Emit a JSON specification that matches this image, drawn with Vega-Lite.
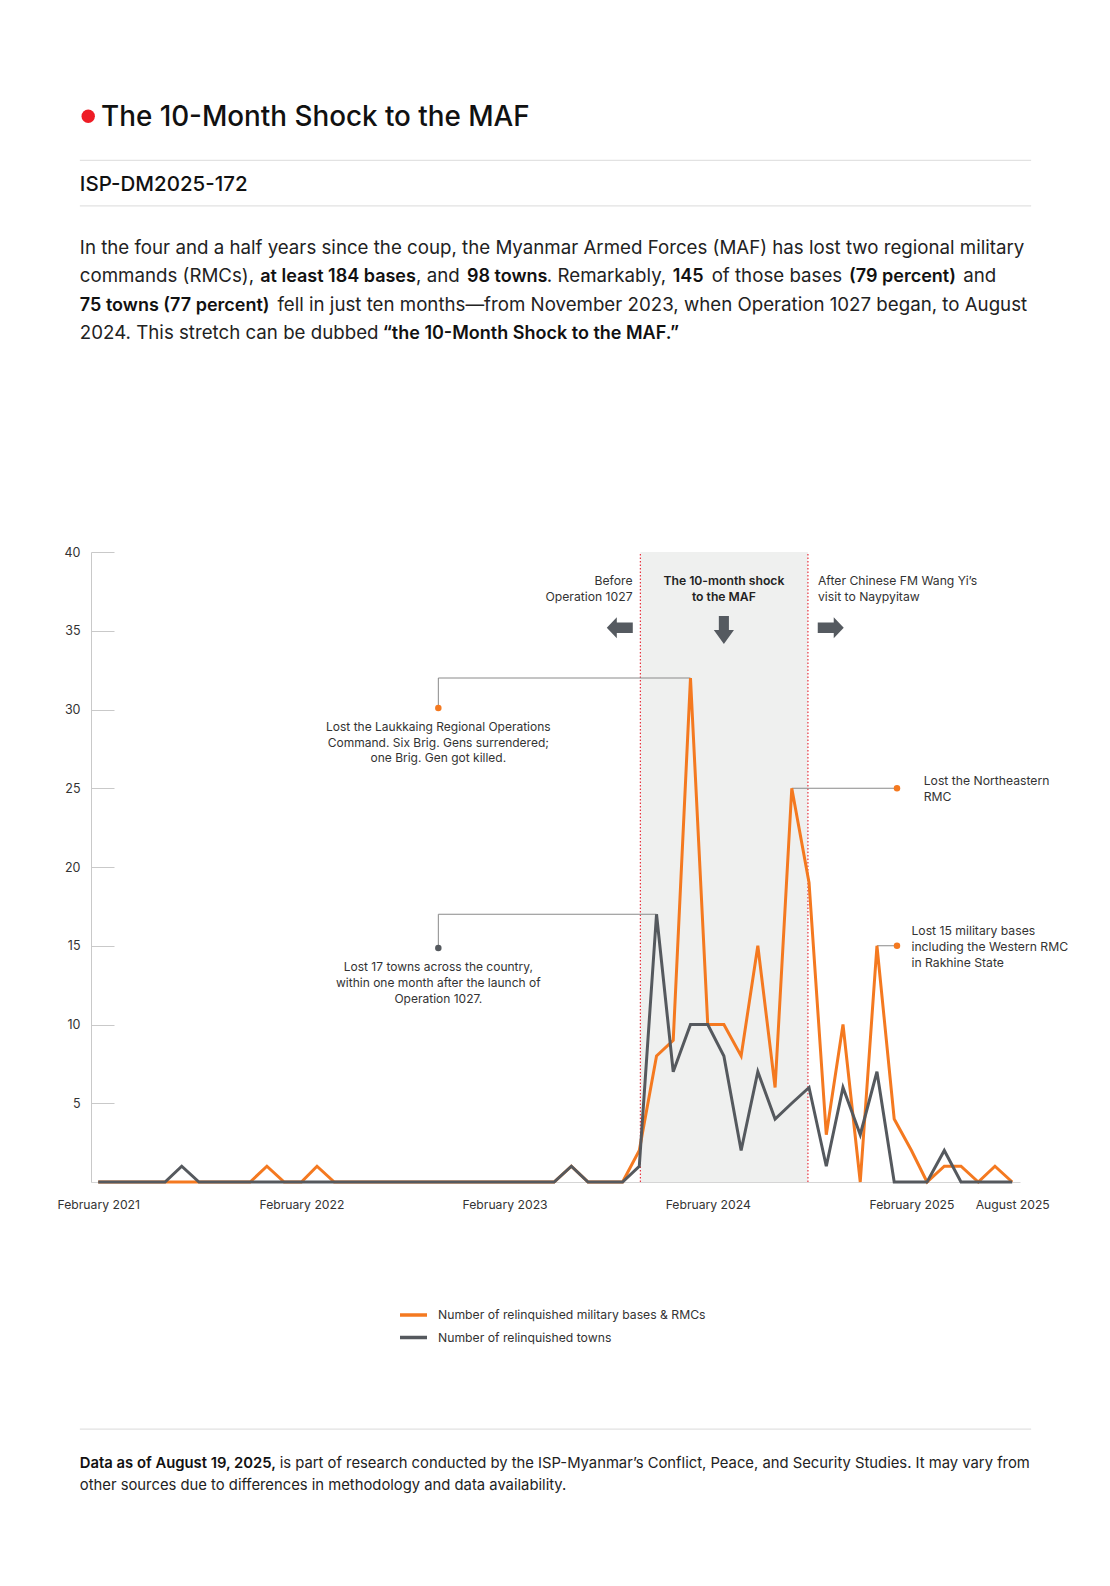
{
  "$schema": "https://vega.github.io/schema/vega-lite/v6.json",
  "width": 929,
  "height": 630,
  "autosize": {"type": "none"},
  "padding": {"left": 91, "top": 552, "right": 90, "bottom": 404},
  "background": "white",
  "config": {"view": {"stroke": null}, "font": "Inter", "text": {"font": "Inter"}},
  "datasets": {
    "m": [
      {"month": "2021/02/01", "bases": 0, "towns": 0},
      {"month": "2021/03/01", "bases": 0, "towns": 0},
      {"month": "2021/04/01", "bases": 0, "towns": 0},
      {"month": "2021/05/01", "bases": 0, "towns": 0},
      {"month": "2021/06/01", "bases": 0, "towns": 0},
      {"month": "2021/07/01", "bases": 0, "towns": 1},
      {"month": "2021/08/01", "bases": 0, "towns": 0},
      {"month": "2021/09/01", "bases": 0, "towns": 0},
      {"month": "2021/10/01", "bases": 0, "towns": 0},
      {"month": "2021/11/01", "bases": 0, "towns": 0},
      {"month": "2021/12/01", "bases": 1, "towns": 0},
      {"month": "2022/01/01", "bases": 0, "towns": 0},
      {"month": "2022/02/01", "bases": 0, "towns": 0},
      {"month": "2022/03/01", "bases": 1, "towns": 0},
      {"month": "2022/04/01", "bases": 0, "towns": 0},
      {"month": "2022/05/01", "bases": 0, "towns": 0},
      {"month": "2022/06/01", "bases": 0, "towns": 0},
      {"month": "2022/07/01", "bases": 0, "towns": 0},
      {"month": "2022/08/01", "bases": 0, "towns": 0},
      {"month": "2022/09/01", "bases": 0, "towns": 0},
      {"month": "2022/10/01", "bases": 0, "towns": 0},
      {"month": "2022/11/01", "bases": 0, "towns": 0},
      {"month": "2022/12/01", "bases": 0, "towns": 0},
      {"month": "2023/01/01", "bases": 0, "towns": 0},
      {"month": "2023/02/01", "bases": 0, "towns": 0},
      {"month": "2023/03/01", "bases": 0, "towns": 0},
      {"month": "2023/04/01", "bases": 0, "towns": 0},
      {"month": "2023/05/01", "bases": 0, "towns": 0},
      {"month": "2023/06/01", "bases": 1, "towns": 1},
      {"month": "2023/07/01", "bases": 0, "towns": 0},
      {"month": "2023/08/01", "bases": 0, "towns": 0},
      {"month": "2023/09/01", "bases": 0, "towns": 0},
      {"month": "2023/10/01", "bases": 2, "towns": 1},
      {"month": "2023/11/01", "bases": 8, "towns": 17},
      {"month": "2023/12/01", "bases": 9, "towns": 7},
      {"month": "2024/01/01", "bases": 32, "towns": 10},
      {"month": "2024/02/01", "bases": 10, "towns": 10},
      {"month": "2024/03/01", "bases": 10, "towns": 8},
      {"month": "2024/04/01", "bases": 8, "towns": 2},
      {"month": "2024/05/01", "bases": 15, "towns": 7},
      {"month": "2024/06/01", "bases": 6, "towns": 4},
      {"month": "2024/07/01", "bases": 25, "towns": 5},
      {"month": "2024/08/01", "bases": 19, "towns": 6},
      {"month": "2024/09/01", "bases": 3, "towns": 1},
      {"month": "2024/10/01", "bases": 10, "towns": 6},
      {"month": "2024/11/01", "bases": 0, "towns": 3},
      {"month": "2024/12/01", "bases": 15, "towns": 7},
      {"month": "2025/01/01", "bases": 4, "towns": 0},
      {"month": "2025/02/01", "bases": 2, "towns": 0},
      {"month": "2025/03/01", "bases": 0, "towns": 0},
      {"month": "2025/04/01", "bases": 1, "towns": 2},
      {"month": "2025/05/01", "bases": 1, "towns": 0},
      {"month": "2025/06/01", "bases": 0, "towns": 0},
      {"month": "2025/07/01", "bases": 1, "towns": 0},
      {"month": "2025/08/01", "bases": 0, "towns": 0}
    ]
  },
  "layer": [
    {
      "data": {"values": [{}]},
      "mark": {"type": "rect", "color": "#eff0ef"},
      "encoding": {
        "x": {"datum": {"year": 2023, "month": 10, "date": 3}, "type": "temporal"},
        "x2": {"datum": {"year": 2024, "month": 7, "date": 30}},
        "y": {"datum": 0, "type": "quantitative"},
        "y2": {"datum": 40}
      }
    },
    {
      "data": {"values": [{}]},
      "mark": {"type": "rule", "color": "#e8333f", "strokeDash": [1.5, 2], "strokeWidth": 1.2},
      "encoding": {
        "x": {"datum": {"year": 2023, "month": 10, "date": 3}, "type": "temporal"},
        "y": {"datum": 0, "type": "quantitative"},
        "y2": {"datum": 40}
      }
    },
    {
      "data": {"values": [{}]},
      "mark": {"type": "rule", "color": "#e8333f", "strokeDash": [1.5, 2], "strokeWidth": 1.2},
      "encoding": {
        "x": {"datum": {"year": 2024, "month": 7, "date": 30}, "type": "temporal"},
        "y": {"datum": 0, "type": "quantitative"},
        "y2": {"datum": 40}
      }
    },
    {
      "data": {"values": [{}]},
      "mark": {"type": "rule", "color": "#8a8a8a", "strokeWidth": 1},
      "encoding": {
        "x": {"datum": {"year": 2022, "month": 10, "date": 5}, "type": "temporal"},
        "x2": {"datum": {"year": 2024, "month": 1, "date": 1}},
        "y": {"datum": 32, "type": "quantitative"}
      }
    },
    {
      "data": {"values": [{}]},
      "mark": {"type": "rule", "color": "#8a8a8a", "strokeWidth": 1},
      "encoding": {
        "x": {"datum": {"year": 2022, "month": 10, "date": 5}, "type": "temporal"},
        "y": {"datum": 32, "type": "quantitative"},
        "y2": {"datum": 30.1}
      }
    },
    {
      "data": {"values": [{}]},
      "mark": {"type": "rule", "color": "#8a8a8a", "strokeWidth": 1},
      "encoding": {
        "x": {"datum": {"year": 2022, "month": 10, "date": 5}, "type": "temporal"},
        "x2": {"datum": {"year": 2023, "month": 11, "date": 1}},
        "y": {"datum": 17, "type": "quantitative"}
      }
    },
    {
      "data": {"values": [{}]},
      "mark": {"type": "rule", "color": "#8a8a8a", "strokeWidth": 1},
      "encoding": {
        "x": {"datum": {"year": 2022, "month": 10, "date": 5}, "type": "temporal"},
        "y": {"datum": 17, "type": "quantitative"},
        "y2": {"datum": 14.86}
      }
    },
    {
      "data": {"values": [{}]},
      "mark": {"type": "rule", "color": "#8a8a8a", "strokeWidth": 1},
      "encoding": {
        "x": {"datum": {"year": 2024, "month": 7, "date": 1}, "type": "temporal"},
        "x2": {"datum": {"year": 2025, "month": 1, "date": 6}},
        "y": {"datum": 25, "type": "quantitative"}
      }
    },
    {
      "data": {"values": [{}]},
      "mark": {"type": "rule", "color": "#8a8a8a", "strokeWidth": 1},
      "encoding": {
        "x": {"datum": {"year": 2024, "month": 12, "date": 1}, "type": "temporal"},
        "x2": {"datum": {"year": 2025, "month": 1, "date": 6}},
        "y": {"datum": 15, "type": "quantitative"}
      }
    },
    {
      "data": {"name": "m"},
      "transform": [{"fold": ["bases", "towns"], "as": ["series", "value"]}],
      "mark": {"type": "line", "strokeWidth": 3, "strokeJoin": "miter", "strokeMiterLimit": 4},
      "encoding": {
        "x": {
          "field": "month",
          "type": "temporal",
          "scale": {"domain": [{"year": 2021, "month": 1, "date": 19}, {"year": 2025, "month": 8, "date": 15}], "nice": false},
          "axis": {
            "title": null,
            "values": [
              {"year": 2021, "month": 2, "date": 1},
              {"year": 2022, "month": 2, "date": 1},
              {"year": 2023, "month": 2, "date": 1},
              {"year": 2024, "month": 2, "date": 1},
              {"year": 2025, "month": 2, "date": 1},
              {"year": 2025, "month": 8, "date": 1}
            ],
            "format": "%B %Y",
            "ticks": false,
            "grid": false,
            "domainColor": "#d5d5d5",
            "labelPadding": 16,
            "labelFontSize": 12.2,
            "labelFont": "Inter",
            "labelColor": "#333333",
            "labelFlush": false,
            "labelOverlap": false
          }
        },
        "y": {
          "field": "value",
          "type": "quantitative",
          "scale": {"domain": [0, 40], "nice": false, "zero": false},
          "axis": {
            "title": null,
            "values": [5, 10, 15, 20, 25, 30, 35, 40],
            "grid": false,
            "tickSize": -23,
            "tickColor": "#c9c9c9",
            "domainColor": "#c9c9c9",
            "labelPadding": 34,
            "labelFontSize": 12.5,
            "labelFont": "Inter",
            "labelColor": "#333333"
          }
        },
        "color": {
          "field": "series",
          "type": "nominal",
          "scale": {"domain": ["bases", "towns"], "range": ["#f47920", "#55595e"]},
          "legend": {
            "orient": "none",
            "legendX": 307,
            "legendY": 755,
            "title": null,
            "direction": "vertical",
            "symbolType": "stroke",
            "symbolSize": 729,
            "symbolStrokeWidth": 3.5,
            "clipHeight": 16,
            "rowPadding": 6.5,
            "labelOffset": 9,
            "labelFontSize": 12.2,
            "labelFont": "Inter",
            "labelColor": "#333333",
            "labelLimit": 500,
            "labelExpr": "datum.label == 'bases' ? 'Number of relinquished military bases & RMCs' : 'Number of relinquished towns'"
          }
        }
      }
    },
    {
      "data": {"values": [{}]},
      "mark": {"type": "point", "filled": true, "size": 42, "color": "#f47920", "opacity": 1},
      "encoding": {
        "x": {"datum": {"year": 2022, "month": 10, "date": 5}, "type": "temporal"},
        "y": {"datum": 30.1, "type": "quantitative"}
      }
    },
    {
      "data": {"values": [{}]},
      "mark": {"type": "point", "filled": true, "size": 42, "color": "#55595e", "opacity": 1},
      "encoding": {
        "x": {"datum": {"year": 2022, "month": 10, "date": 5}, "type": "temporal"},
        "y": {"datum": 14.86, "type": "quantitative"}
      }
    },
    {
      "data": {"values": [{}]},
      "mark": {"type": "point", "filled": true, "size": 42, "color": "#f47920", "opacity": 1},
      "encoding": {
        "x": {"datum": {"year": 2025, "month": 1, "date": 6}, "type": "temporal"},
        "y": {"datum": 25, "type": "quantitative"}
      }
    },
    {
      "data": {"values": [{}]},
      "mark": {"type": "point", "filled": true, "size": 42, "color": "#f47920", "opacity": 1},
      "encoding": {
        "x": {"datum": {"year": 2025, "month": 1, "date": 6}, "type": "temporal"},
        "y": {"datum": 15, "type": "quantitative"}
      }
    },
    {
      "data": {"values": [{}]},
      "mark": {"type": "text", "text": ["Lost the Laukkaing Regional Operations", "Command. Six Brig. Gens surrendered;", "one Brig. Gen got killed."], "fontSize": 12, "lineHeight": 15.8, "color": "#333333", "align": "center", "baseline": "middle"},
      "encoding": {
        "x": {"datum": {"year": 2022, "month": 10, "date": 5}, "type": "temporal"},
        "y": {"datum": 28.9, "type": "quantitative"}
      }
    },
    {
      "data": {"values": [{}]},
      "mark": {"type": "text", "text": ["Lost 17 towns across the country,", "within one month after the launch of", "Operation 1027."], "fontSize": 12, "lineHeight": 15.8, "color": "#333333", "align": "center", "baseline": "middle"},
      "encoding": {
        "x": {"datum": {"year": 2022, "month": 10, "date": 5}, "type": "temporal"},
        "y": {"datum": 13.65, "type": "quantitative"}
      }
    },
    {
      "data": {"values": [{}]},
      "mark": {"type": "text", "text": ["Lost the Northeastern", "RMC"], "fontSize": 12.2, "lineHeight": 16, "color": "#333333", "align": "left", "baseline": "middle"},
      "encoding": {
        "x": {"datum": {"year": 2025, "month": 2, "date": 23}, "type": "temporal"},
        "y": {"datum": 25.45, "type": "quantitative"}
      }
    },
    {
      "data": {"values": [{}]},
      "mark": {"type": "text", "text": ["Lost 15 military bases", "including the Western RMC", "in Rakhine State"], "fontSize": 12.2, "lineHeight": 16, "color": "#333333", "align": "left", "baseline": "middle"},
      "encoding": {
        "x": {"datum": {"year": 2025, "month": 2, "date": 1}, "type": "temporal"},
        "y": {"datum": 15.96, "type": "quantitative"}
      }
    },
    {
      "data": {"values": [{}]},
      "mark": {"type": "text", "text": ["Before", "Operation 1027"], "fontSize": 12.2, "lineHeight": 16, "color": "#333333", "align": "right", "baseline": "middle"},
      "encoding": {
        "x": {"datum": {"year": 2023, "month": 9, "date": 19}, "type": "temporal"},
        "y": {"datum": 38.13, "type": "quantitative"}
      }
    },
    {
      "data": {"values": [{}]},
      "mark": {"type": "text", "text": ["The 10-month shock", "to the MAF"], "fontSize": 12.2, "fontWeight": 600, "lineHeight": 16, "color": "#222222", "align": "center", "baseline": "middle"},
      "encoding": {
        "x": {"datum": {"year": 2024, "month": 3, "date": 1}, "type": "temporal"},
        "y": {"datum": 38.13, "type": "quantitative"}
      }
    },
    {
      "data": {"values": [{}]},
      "mark": {"type": "text", "text": ["After Chinese FM Wang Yi’s", "visit to Naypyitaw"], "fontSize": 12.2, "lineHeight": 16, "color": "#333333", "align": "left", "baseline": "middle"},
      "encoding": {
        "x": {"datum": {"year": 2024, "month": 8, "date": 17}, "type": "temporal"},
        "y": {"datum": 38.13, "type": "quantitative"}
      }
    },
    {
      "data": {"values": [{}]},
      "mark": {"type": "point", "filled": true, "opacity": 1, "color": "#555a60", "size": 676, "shape": "M1,-0.41L-0.23,-0.41L-0.23,-0.8L-1,0L-0.23,0.8L-0.23,0.41L1,0.41Z"},
      "encoding": {
        "x": {"datum": {"year": 2023, "month": 8, "date": 27}, "type": "temporal"},
        "y": {"datum": 35.19, "type": "quantitative"}
      }
    },
    {
      "data": {"values": [{}]},
      "mark": {"type": "point", "filled": true, "opacity": 1, "color": "#555a60", "size": 676, "shape": "M-1,-0.41L0.23,-0.41L0.23,-0.8L1,0L0.23,0.8L0.23,0.41L-1,0.41Z"},
      "encoding": {
        "x": {"datum": {"year": 2024, "month": 9, "date": 9}, "type": "temporal"},
        "y": {"datum": 35.19, "type": "quantitative"}
      }
    },
    {
      "data": {"values": [{}]},
      "mark": {"type": "point", "filled": true, "opacity": 1, "color": "#555a60", "size": 784, "shape": "M-0.36,-1L0.36,-1L0.36,0L0.72,0L0,1L-0.72,0L-0.36,0Z"},
      "encoding": {
        "x": {"datum": {"year": 2024, "month": 3, "date": 1}, "type": "temporal"},
        "y": {"datum": 35.05, "type": "quantitative"}
      }
    },
    {
      "data": {"values": [{}]},
      "mark": {"type": "point", "filled": true, "opacity": 1, "color": "#ee1c25", "size": 180},
      "encoding": {
        "x": {"datum": {"year": 2021, "month": 1, "date": 14}, "type": "temporal"},
        "y": {"datum": 67.67, "type": "quantitative"}
      }
    },
    {
      "data": {"values": [{}]},
      "mark": {"type": "text", "text": "The 10-Month Shock to the MAF", "fontSize": 27.8, "fontWeight": 500, "color": "#111111", "align": "left", "baseline": "alphabetic"},
      "encoding": {
        "x": {"datum": {"year": 2021, "month": 2, "date": 6}, "type": "temporal"},
        "y": {"datum": 67.07, "type": "quantitative"}
      }
    },
    {
      "data": {"values": [{}]},
      "mark": {"type": "rule", "color": "#e2e2e2", "strokeWidth": 1.2},
      "encoding": {
        "x": {"datum": {"year": 2020, "month": 12, "date": 30}, "type": "temporal"},
        "x2": {"datum": {"year": 2025, "month": 9, "date": 4}},
        "y": {"datum": 64.86, "type": "quantitative"}
      }
    },
    {
      "data": {"values": [{}]},
      "mark": {"type": "rule", "color": "#e2e2e2", "strokeWidth": 1.2},
      "encoding": {
        "x": {"datum": {"year": 2020, "month": 12, "date": 30}, "type": "temporal"},
        "x2": {"datum": {"year": 2025, "month": 9, "date": 4}},
        "y": {"datum": 61.98, "type": "quantitative"}
      }
    },
    {
      "data": {"values": [{}]},
      "mark": {"type": "text", "text": "ISP-DM2025-172", "fontSize": 20.5, "fontWeight": 500, "color": "#111111", "align": "left", "baseline": "alphabetic"},
      "encoding": {
        "x": {"datum": {"year": 2020, "month": 12, "date": 30}, "type": "temporal"},
        "y": {"datum": 62.89, "type": "quantitative"}
      }
    },
    {
      "data": {"values": [{}]},
      "mark": {"type": "text", "text": "In the four and a half years since the coup, the Myanmar Armed Forces (MAF) has lost two regional military", "fontSize": 18.7, "color": "#222222", "align": "left", "baseline": "alphabetic"},
      "encoding": {
        "x": {"datum": {"year": 2020, "month": 12, "date": 30}, "type": "temporal"},
        "y": {"datum": 58.93, "type": "quantitative"}
      }
    },
    {
      "data": {"values": [{}]},
      "mark": {"type": "text", "text": "commands (RMCs),", "fontSize": 18.7, "color": "#222222", "align": "left", "baseline": "alphabetic"},
      "encoding": {
        "x": {"datum": {"year": 2020, "month": 12, "date": 30}, "type": "temporal"},
        "y": {"datum": 57.12, "type": "quantitative"}
      }
    },
    {
      "data": {"values": [{}]},
      "mark": {"type": "text", "text": "at least 184 bases", "fontSize": 18, "fontWeight": 600, "color": "#111111", "align": "left", "baseline": "alphabetic"},
      "encoding": {
        "x": {"datum": {"year": 2021, "month": 11, "date": 19}, "type": "temporal"},
        "y": {"datum": 57.12, "type": "quantitative"}
      }
    },
    {
      "data": {"values": [{}]},
      "mark": {"type": "text", "text": ", and", "fontSize": 18.7, "color": "#222222", "align": "left", "baseline": "alphabetic"},
      "encoding": {
        "x": {"datum": {"year": 2022, "month": 8, "date": 26}, "type": "temporal"},
        "y": {"datum": 57.12, "type": "quantitative"}
      }
    },
    {
      "data": {"values": [{}]},
      "mark": {"type": "text", "text": "98 towns", "fontSize": 18, "fontWeight": 600, "color": "#111111", "align": "left", "baseline": "alphabetic"},
      "encoding": {
        "x": {"datum": {"year": 2022, "month": 11, "date": 25, "hours": 12}, "type": "temporal"},
        "y": {"datum": 57.12, "type": "quantitative"}
      }
    },
    {
      "data": {"values": [{}]},
      "mark": {"type": "text", "text": ". Remarkably,", "fontSize": 18.7, "color": "#222222", "align": "left", "baseline": "alphabetic"},
      "encoding": {
        "x": {"datum": {"year": 2023, "month": 4, "date": 18}, "type": "temporal"},
        "y": {"datum": 57.12, "type": "quantitative"}
      }
    },
    {
      "data": {"values": [{}]},
      "mark": {"type": "text", "text": "145", "fontSize": 18, "fontWeight": 600, "color": "#111111", "align": "left", "baseline": "alphabetic"},
      "encoding": {
        "x": {"datum": {"year": 2023, "month": 11, "date": 30}, "type": "temporal"},
        "y": {"datum": 57.12, "type": "quantitative"}
      }
    },
    {
      "data": {"values": [{}]},
      "mark": {"type": "text", "text": "of those bases", "fontSize": 18.7, "color": "#222222", "align": "left", "baseline": "alphabetic"},
      "encoding": {
        "x": {"datum": {"year": 2024, "month": 2, "date": 8}, "type": "temporal"},
        "y": {"datum": 57.12, "type": "quantitative"}
      }
    },
    {
      "data": {"values": [{}]},
      "mark": {"type": "text", "text": "(79 percent)", "fontSize": 18, "fontWeight": 600, "color": "#111111", "align": "left", "baseline": "alphabetic"},
      "encoding": {
        "x": {"datum": {"year": 2024, "month": 10, "date": 12}, "type": "temporal"},
        "y": {"datum": 57.12, "type": "quantitative"}
      }
    },
    {
      "data": {"values": [{}]},
      "mark": {"type": "text", "text": "and", "fontSize": 18.7, "color": "#222222", "align": "left", "baseline": "alphabetic"},
      "encoding": {
        "x": {"datum": {"year": 2025, "month": 5, "date": 5}, "type": "temporal"},
        "y": {"datum": 57.12, "type": "quantitative"}
      }
    },
    {
      "data": {"values": [{}]},
      "mark": {"type": "text", "text": "75 towns (77 percent)", "fontSize": 18, "fontWeight": 600, "color": "#111111", "align": "left", "baseline": "alphabetic"},
      "encoding": {
        "x": {"datum": {"year": 2020, "month": 12, "date": 30}, "type": "temporal"},
        "y": {"datum": 55.32, "type": "quantitative"}
      }
    },
    {
      "data": {"values": [{}]},
      "mark": {"type": "text", "text": "fell in just ten months—from November 2023, when Operation 1027 began, to August", "fontSize": 18.7, "color": "#222222", "align": "left", "baseline": "alphabetic"},
      "encoding": {
        "x": {"datum": {"year": 2021, "month": 12, "date": 20}, "type": "temporal"},
        "y": {"datum": 55.32, "type": "quantitative"}
      }
    },
    {
      "data": {"values": [{}]},
      "mark": {"type": "text", "text": "2024. This stretch can be dubbed", "fontSize": 18.7, "color": "#222222", "align": "left", "baseline": "alphabetic"},
      "encoding": {
        "x": {"datum": {"year": 2020, "month": 12, "date": 30}, "type": "temporal"},
        "y": {"datum": 53.52, "type": "quantitative"}
      }
    },
    {
      "data": {"values": [{}]},
      "mark": {"type": "text", "text": "“the 10-Month Shock to the MAF.”", "fontSize": 18, "fontWeight": 600, "color": "#111111", "align": "left", "baseline": "alphabetic"},
      "encoding": {
        "x": {"datum": {"year": 2022, "month": 6, "date": 27}, "type": "temporal"},
        "y": {"datum": 53.52, "type": "quantitative"}
      }
    },
    {
      "data": {"values": [{}]},
      "mark": {"type": "rule", "color": "#e2e2e2", "strokeWidth": 1.2},
      "encoding": {
        "x": {"datum": {"year": 2020, "month": 12, "date": 30}, "type": "temporal"},
        "x2": {"datum": {"year": 2025, "month": 9, "date": 4}},
        "y": {"datum": -15.69, "type": "quantitative"}
      }
    },
    {
      "data": {"values": [{}]},
      "mark": {"type": "text", "text": "Data as of August 19, 2025,", "fontSize": 14.8, "fontWeight": 600, "color": "#111111", "align": "left", "baseline": "alphabetic"},
      "encoding": {
        "x": {"datum": {"year": 2020, "month": 12, "date": 30}, "type": "temporal"},
        "y": {"datum": -18.15, "type": "quantitative"}
      }
    },
    {
      "data": {"values": [{}]},
      "mark": {"type": "text", "text": "is part of research conducted by the ISP-Myanmar’s Conflict, Peace, and Security Studies. It may vary from", "fontSize": 14.8, "color": "#222222", "align": "left", "baseline": "alphabetic"},
      "encoding": {
        "x": {"datum": {"year": 2021, "month": 12, "date": 24}, "type": "temporal"},
        "y": {"datum": -18.15, "type": "quantitative"}
      }
    },
    {
      "data": {"values": [{}]},
      "mark": {"type": "text", "text": "other sources due to differences in methodology and data availability.", "fontSize": 14.8, "color": "#222222", "align": "left", "baseline": "alphabetic"},
      "encoding": {
        "x": {"datum": {"year": 2020, "month": 12, "date": 30}, "type": "temporal"},
        "y": {"datum": -19.56, "type": "quantitative"}
      }
    }
  ]
}
